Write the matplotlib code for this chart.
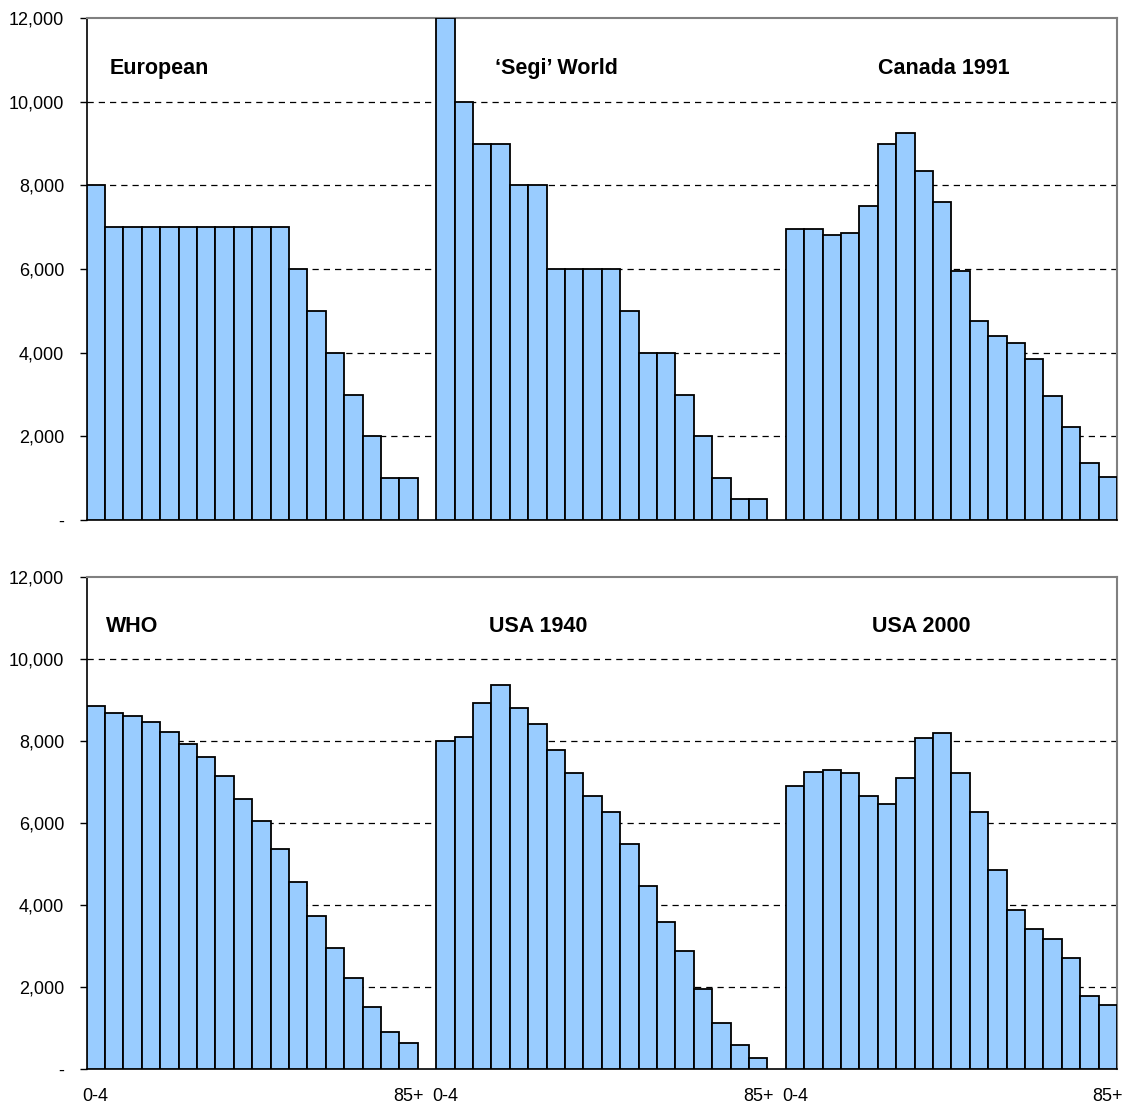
import matplotlib
matplotlib.use("Agg")
import matplotlib.pyplot as plt
from matplotlib.ticker import FixedLocator

plt.rcParams['font.family'] = ['Liberation Sans', 'DejaVu Sans']

age_first = "0-4"
age_last = "85+"

top_titles = ["European", "\u2018Segi\u2019 World", "Canada 1991"]
bottom_titles = ["WHO", "USA 1940", "USA 2000"]

european = [8000, 7000, 7000, 7000, 7000, 7000, 7000, 7000, 7000, 7000, 7000,
            6000, 5000, 4000, 3000, 2000, 1000, 1000]
segi_world = [12000, 10000, 9000, 9000, 8000, 8000, 6000, 6000, 6000, 6000,
              5000, 4000, 4000, 3000, 2000, 1000, 500, 500]
canada_1991 = [6946, 6945, 6803, 6849, 7501, 8994, 9240, 8338, 7606, 5953,
               4764, 4404, 4232, 3857, 2965, 2212, 1359, 1030]
who = [8860, 8690, 8600, 8470, 8220, 7930, 7610, 7150, 6590, 6040,
       5370, 4550, 3720, 2960, 2210, 1520, 910, 635]
usa_1940 = [8001, 8107, 8919, 9367, 8806, 8417, 7784, 7229, 6666, 6264,
            5489, 4462, 3583, 2873, 1959, 1124, 577, 276]
usa_2000 = [6914, 7253, 7303, 7217, 6648, 6453, 7104, 8076, 8185, 7212,
            6272, 4845, 3879, 3426, 3177, 2700, 1784, 1551]

yticks = [0, 2000, 4000, 6000, 8000, 10000, 12000]
ytick_labels = ["-", "2,000", "4,000", "6,000", "8,000", "10,000", "12,000"]

BAR_COLOR = "#99CCFF"
N = 18
GAP = 1

fig = plt.figure(figsize=(11.26, 11.05), dpi=100)
W, H = 1126, 1105
left, right = 86.5, 1117
ax_top = fig.add_axes([left / W, 1 - 520 / H, (right - left) / W, (520 - 18) / H])
ax_bot = fig.add_axes([left / W, 1 - 1069 / H, (right - left) / W, (1069 - 577) / H])

title_x = [[0.78, 21.7, 42.5], [0.56, 21.4, 42.2]]

for row, (ax, groups, titles) in enumerate([
        (ax_top, [european, segi_world, canada_1991], top_titles),
        (ax_bot, [who, usa_1940, usa_2000], bottom_titles)]):
    tick_pos = []
    tick_lab = []
    for g, vals in enumerate(groups):
        start = g * (N + GAP)
        xs = [start + i for i in range(N)]
        ax.bar(xs, vals, width=1.0, color=BAR_COLOR, edgecolor="black",
               linewidth=1.3, zorder=3)
        ax.text(title_x[row][g], 10800, titles[g], fontsize=15.5, fontweight="bold",
                ha="left", va="center", zorder=4)
        tick_pos += [start, start + N - 1]
        tick_lab += [age_first, age_last]
    ax.set_xlim(-0.5, 3 * N + 2 * GAP - 0.5)
    ax.set_ylim(0, 12000)
    ax.yaxis.set_major_locator(FixedLocator(yticks))
    ax.set_yticklabels(ytick_labels, fontsize=13)
    for y in yticks[1:-1]:
        ax.axhline(y, color="black", linestyle=(0, (5, 4)), linewidth=0.9, zorder=1)
    ax.tick_params(axis="y", direction="out", length=5, width=1, pad=11)
    ax.spines["left"].set_color("black")
    ax.spines["bottom"].set_color("black")
    ax.spines["left"].set_linewidth(1.2)
    ax.spines["bottom"].set_linewidth(1.2)
    ax.spines["top"].set_color("#808080")
    ax.spines["right"].set_color("#808080")
    ax.spines["top"].set_linewidth(1.5)
    ax.spines["right"].set_linewidth(1.5)
    if row == 1:
        ax.set_xticks(tick_pos)
        ax.set_xticklabels(tick_lab, fontsize=13)
        ax.tick_params(axis="x", length=0, pad=14)
    else:
        ax.set_xticks([])

fig.savefig("out.png", dpi=100)
